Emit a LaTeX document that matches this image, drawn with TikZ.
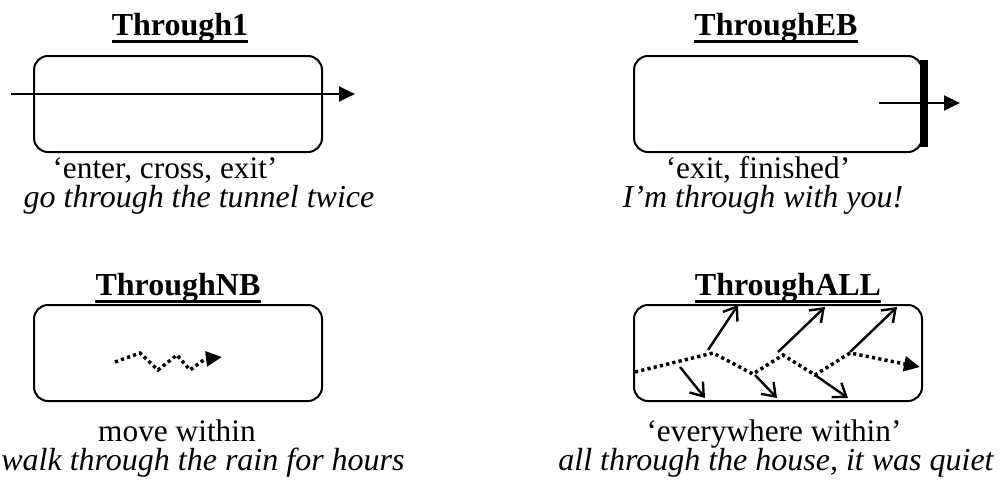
\documentclass[tikz,border=0pt]{standalone}
\usepackage{fontspec}
\setmainfont{Liberation Serif}
\usetikzlibrary{arrows.meta}
\begin{document}
\begin{tikzpicture}[x=0.75pt,y=-0.75pt,
  txt/.style={font=\fontsize{23.5}{28}\selectfont, inner sep=0pt, anchor=base},
  ittxt/.style={txt, font=\fontsize{24}{28}\selectfont\itshape},
  ttl/.style={txt, font=\fontsize{24}{28}\selectfont\bfseries},
  ul/.style={line width=2.3pt},
  panel/.style={draw, line width=1.5pt, rounded corners=10.5pt,
    minimum width=216pt, minimum height=72pt, inner sep=0pt},
  solidarrow/.style={line width=2.2pt, -{Triangle[length=12pt,width=11pt]}},
  dotpath/.style={line width=2.6pt, dash pattern=on 2.4pt off 2.4pt,
    -{Triangle[length=12pt,width=11pt]}},
  barb/.style={line width=1.8pt, -{Straight Barb[length=9pt,width=13pt]}},
  bar/.style={line width=5.5pt}
]
\useasboundingbox (0,0) rectangle (1008,482);

% ---- Through1 ----
\node[ttl] (t1) at (180,35) {Through1};
\draw[ul] ([yshift=-5pt]t1.base west) -- ([yshift=-5pt]t1.base east);
\node[panel] (b1) at (178,104) {};
\coordinate (a1s) at (11,94);
\coordinate (a1e) at (355,94);
\draw[solidarrow] (a1s) -- (a1e);
\node[txt] (g1) at (165,178) {‘enter, cross, exit’};
\node[ittxt] (e1) at (199,207) {go through the tunnel twice};

% ---- ThroughEB ----
\node[ttl] (t2) at (776,35) {ThroughEB};
\draw[ul] ([yshift=-5pt]t2.base west) -- ([yshift=-5pt]t2.base east);
\node[panel] (b2) at (778,104) {};
\coordinate (bartop) at (924,60);
\coordinate (barbot) at (924,147);
\draw[bar] (bartop) -- (barbot);
\coordinate (a2s) at (879,103);
\coordinate (a2e) at (960,103);
\draw[solidarrow] (a2s) -- (a2e);
\node[txt] (g2) at (758,178) {‘exit, finished’};
\node[ittxt] (e2) at (763,207) {I’m through with you!};

% ---- ThroughNB ----
\node[ttl] (t3) at (178,295) {ThroughNB};
\draw[ul] ([yshift=-5pt]t3.base west) -- ([yshift=-5pt]t3.base east);
\node[panel] (b3) at (178,353) {};
\coordinate (n0) at (115,362);
\coordinate (n1) at (140,353);
\coordinate (n2) at (158,370);
\coordinate (n3) at (177,355);
\coordinate (n4) at (190,370);
\coordinate (n5) at (205,359);
\coordinate (n6) at (222,357);
\draw[dotpath] (n0) -- (n1) -- (n2) -- (n3) -- (n4) -- (n5) -- (n6);
\node[txt] (g3) at (177,441) {move within};
\node[ittxt] (e3) at (203,470) {walk through the rain for hours};

% ---- ThroughALL ----
\node[ttl] (t4) at (788,295) {ThroughALL};
\draw[ul] ([yshift=-5pt]t4.base west) -- ([yshift=-5pt]t4.base east);
\node[panel] (b4) at (778,353) {};
\coordinate (p0) at (635,372);
\coordinate (p1) at (713,353);
\coordinate (p2) at (753,374);
\coordinate (p3) at (783,355);
\coordinate (p4) at (815,375);
\coordinate (p5) at (850,353);
\coordinate (p6) at (920,367);
\draw[dotpath] (p0) -- (p1) -- (p2) -- (p3) -- (p4) -- (p5) -- (p6);
% outward scattering arrows
\coordinate (u1s) at (708,350); \coordinate (u1e) at (738,305);
\coordinate (u2s) at (778,352); \coordinate (u2e) at (825,307);
\coordinate (u3s) at (850,352); \coordinate (u3e) at (897,307);
\coordinate (d1s) at (680,367); \coordinate (d1e) at (705,398);
\coordinate (d2s) at (755,375); \coordinate (d2e) at (777,398);
\coordinate (d3s) at (815,375); \coordinate (d3e) at (848,398);
\foreach \s/\e in {u1s/u1e,u2s/u2e,u3s/u3e,d1s/d1e,d2s/d2e,d3s/d3e}
  \draw[barb] (\s) -- (\e);
\node[txt] (g4) at (774,441) {‘everywhere within’};
\node[ittxt] (e4) at (776,470) {all through the house, it was quiet};
\end{tikzpicture}
\end{document}
